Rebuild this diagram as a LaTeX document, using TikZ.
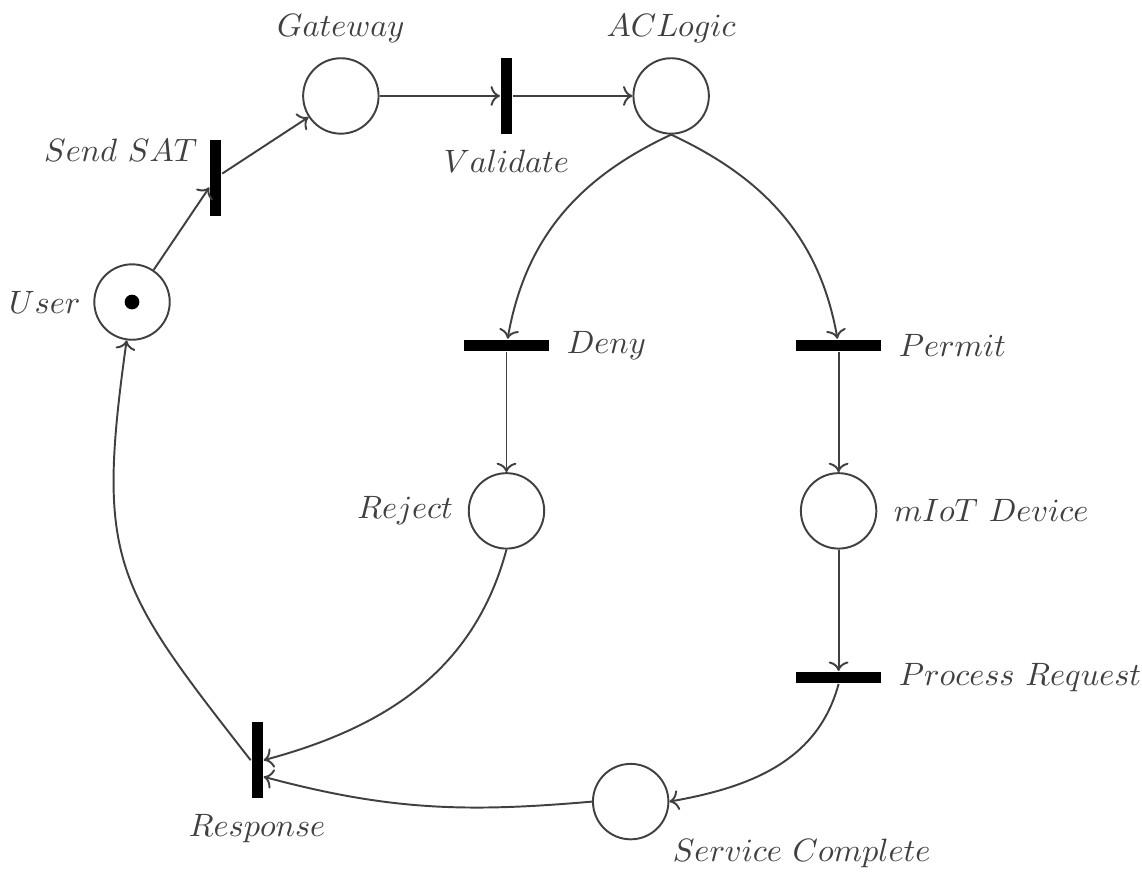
\documentclass[tikz,border=0pt]{standalone}
\usetikzlibrary{arrows.meta, positioning}

\begin{document}
\begin{tikzpicture}[
        place/.style={circle, draw, minimum size=0.82cm, inner sep=0pt},
        vtrans/.style={rectangle, fill=black, minimum width=0.12cm, minimum height=0.83cm, inner sep=0pt},
        htrans/.style={rectangle, fill=black, minimum width=0.93cm, minimum height=0.12cm, inner sep=0pt},
        tokendot/.style={circle, fill=black, minimum size=0.16cm, inner sep=0pt},
        lbl/.style={inner sep=0pt},
        >=To, semithick, color=black!75
    ]
        \useasboundingbox (0,0) rectangle (12.413,9.5);

        % places and transitions
        \node[place] (user) at (1.435,6.217) {};
        \node[tokendot] (tok) at (user) {};
        \node[vtrans, on grid, above right=1.35cm and 0.91cm of user] (sendsat) {};
        \node[place, on grid, above right=0.89cm and 1.36cm of sendsat] (gateway) {};
        \node[vtrans, on grid, right=1.80cm of gateway] (validate) {};
        \node[place, on grid, right=1.79cm of validate] (aclogic) {};
        \node[htrans, on grid, below=2.71cm of validate] (deny) {};
        \node[htrans, on grid, right=3.61cm of deny] (permit) {};
        \node[place, on grid, below=1.80cm of deny] (reject) {};
        \node[place, on grid, below=1.80cm of permit] (miot) {};
        \node[htrans, on grid, below=1.81cm of miot] (process) {};
        \node[place, on grid, below left=1.35cm and 2.26cm of process] (service) {};
        \node[vtrans, on grid, above left=0.45cm and 4.06cm of service] (response) {};

        % labels
        \node[lbl, left=0.13cm of user] (user-l) {$User$};
        \node[lbl, left=0.12cm of sendsat, yshift=0.3cm] (sendsat-l) {$Send\ SAT$};
        \node[lbl, above=0.15cm of gateway] (gateway-l) {$Gateway$};
        \node[lbl, below=0.15cm of validate] (validate-l) {$Validate$};
        \node[lbl, above=0.15cm of aclogic] (aclogic-l) {$ACLogic$};
        \node[lbl, right=0.17cm of deny] (deny-l) {$Deny$};
        \node[lbl, right=0.17cm of permit] (permit-l) {$Permit$};
        \node[lbl, left=0.15cm of reject] (reject-l) {$Reject$};
        \node[lbl, right=0.17cm of miot] (miot-l) {$mIoT\ Device$};
        \node[lbl, right=0.17cm of process] (process-l) {$Process\ Request$};
        \node[lbl, below right=0.1cm and 0.15cm of service] (service-l) {$Service\ Complete$};
        \node[lbl, below=0.15cm of response] (response-l) {$Response$};

        % arcs
        \draw[->] (user) -- (sendsat);
        \draw[->] (sendsat) -- (gateway);
        \draw[->] (gateway) -- (validate);
        \draw[->] (validate) -- (aclogic);
        \draw[->] (aclogic.south) to[out=-155, in=80] (deny);
        \draw[->] (aclogic.south) to[out=-25, in=100] (permit);
        \draw[->] (deny) -- (reject);
        \draw[->] (permit) -- (miot);
        \draw[->] (miot) -- (process);
        \draw[->] (process.south) to[out=-105, in=10] (service.east);
        \draw[->] (reject.south) to[out=-105, in=15] (response.east);
        \draw[->] (service.west) to[out=185, in=-15] ([yshift=-0.18cm]response.east);
        \draw[->] (response.west) to[out=128, in=-98, looseness=1.3] (user);
    \end{tikzpicture}
\end{document}
